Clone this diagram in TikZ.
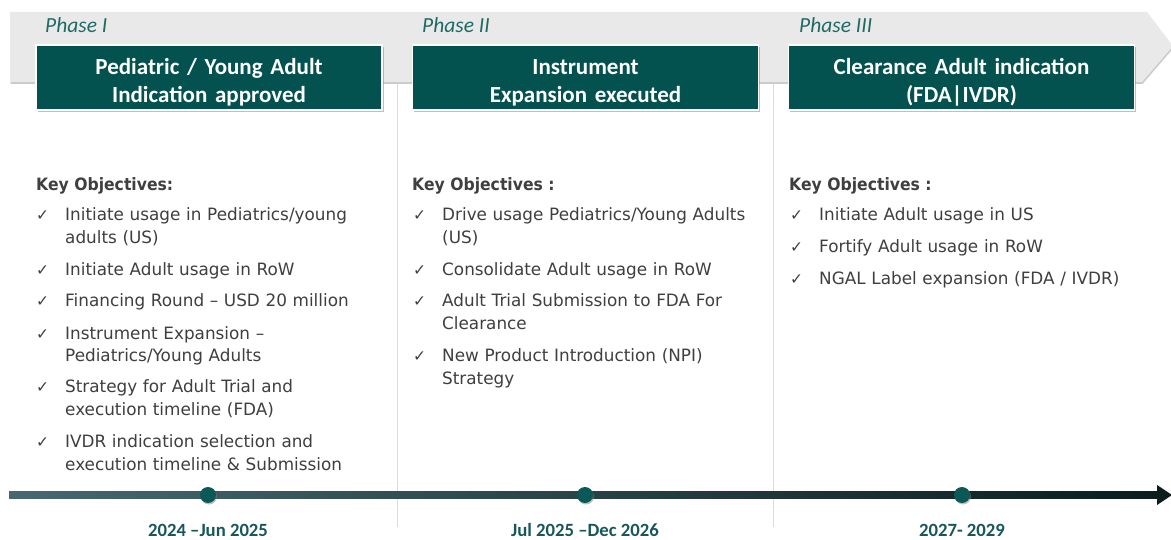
\documentclass[tikz,border=0pt]{standalone}
\usepackage{fontspec}
\setmainfont{DejaVu Sans}
\newfontfamily\bodyf{DejaVu Sans}[FakeStretch=0.99]
\newfontfamily\bodyb{DejaVu Sans}[FakeStretch=0.92]
\newfontfamily\calib{Carlito}
\usetikzlibrary{shadows}
\definecolor{boxteal}{HTML}{03524F}
\definecolor{phaseteal}{HTML}{1E6A66}
\definecolor{dateteal}{HTML}{17575A}
\definecolor{bodytxt}{HTML}{3F3F3F}
\definecolor{bannergrey}{HTML}{E9E9E9}
\definecolor{divgrey}{HTML}{DCDCDC}
\definecolor{dotteal}{HTML}{0B5956}
\definecolor{lineA}{HTML}{476871}
\definecolor{lineB}{HTML}{0B1D1D}
\begin{document}
\begin{tikzpicture}[x=1pt,y=-1pt,
  headbox/.style={fill=boxteal, draw=white, line width=1.6pt, minimum width=346pt, minimum height=65pt, inner sep=0pt, drop shadow={shadow xshift=1.5pt, shadow yshift=-2.5pt, fill=black!45, opacity=.55}},
  headtext/.style={text width=340pt, align=center, inner sep=0pt, text=white, font={\calib\bfseries\fontsize{23}{28}\selectfont}},
  phaselabel/.style={anchor=base west, inner sep=0pt, text=phaseteal, font={\calib\itshape\fontsize{21.5}{24}\selectfont}},
  keyhead/.style={anchor=base west, inner sep=0pt, text=bodytxt, font={\bodyb\bfseries\fontsize{17}{23}\selectfont}},
  item/.style={anchor=base west, inner sep=0pt, text=bodytxt, text width=340pt, align=left, font={\bodyf\fontsize{17}{23}\selectfont}},
  checkmark/.style={anchor=base west, inner sep=0pt, text=bodytxt, font={\fontsize{15.5}{17}\selectfont}},
  divider/.style={draw=divgrey, line width=0.8pt},
  dot/.style={circle, fill=dotteal, minimum size=16pt, inner sep=0pt, drop shadow={shadow xshift=1pt, shadow yshift=-1.5pt, fill=black!50, opacity=.5}},
  datelabel/.style={inner sep=0pt, text=dateteal, font={\calib\bfseries\fontsize{18.7}{21}\selectfont}}
]
\useasboundingbox (0,0) rectangle (1171,540);
\fill[white] (0,0) rectangle (1171,540);
% banner
\fill[bannergrey, drop shadow={shadow xshift=0.5pt, shadow yshift=-2pt, fill=black!40, opacity=.5}]
  (10,12) -- (1147,12) -- (1173,46) -- (1142,82) -- (10,82) -- cycle;
% dividers
\coordinate (v1t) at (397,83); \coordinate (v1b) at (397,527);
\coordinate (v2t) at (773,83); \coordinate (v2b) at (773,527);
\draw[divider] (v1t) -- (v1b);
\draw[divider] (v2t) -- (v2b);
% phase labels
\node[phaselabel] (p1) at (45,33) {Phase I};
\node[phaselabel] (p2) at (422,33) {Phase II};
\node[phaselabel] (p3) at (799,33) {Phase III};
% header boxes
\node[headbox] (h1) at (209,77.5) {};
\node[headbox] (h2) at (585.5,77.5) {};
\node[headbox] (h3) at (961.5,77.5) {};
\node[headtext] (h1t) at ([yshift=-5pt]h1.center) {Pediatric / Young Adult\\Indication approved};
\node[headtext] (h2t) at ([yshift=-5pt]h2.center) {Instrument\\Expansion executed};
\node[headtext] (h3t) at ([yshift=-5pt]h3.center) {Clearance Adult indication\\(FDA|IVDR)};
% column 1
\node[keyhead] (k1) at (36,191) {Key Objectives:};
\node[checkmark] (c11) at (36,221) {✓}; \node[item] (i11) at (65,221) {Initiate usage in Pediatrics/young\\adults (US)};
\node[checkmark] (c12) at (36,276) {✓}; \node[item] (i12) at (65,276) {Initiate Adult usage in RoW};
\node[checkmark] (c13) at (36,307) {✓}; \node[item] (i13) at (65,307) {Financing Round – USD 20 million};
\node[checkmark] (c14) at (36,339) {✓}; \node[item] (i14) at (65,339) {Instrument Expansion –\\Pediatrics/Young Adults};
\node[checkmark] (c15) at (36,392) {✓}; \node[item] (i15) at (65,392) {Strategy for Adult Trial and\\execution timeline (FDA)};
\node[checkmark] (c16) at (36,447) {✓}; \node[item] (i16) at (65,447) {IVDR indication selection and\\execution timeline \& Submission};
% column 2
\node[keyhead] (k2) at (412,191) {Key Objectives :};
\node[checkmark] (c21) at (413,221) {✓}; \node[item] (i21) at (442,221) {Drive usage Pediatrics/Young Adults\\(US)};
\node[checkmark] (c22) at (413,276) {✓}; \node[item] (i22) at (442,276) {Consolidate Adult usage in RoW};
\node[checkmark] (c23) at (413,307) {✓}; \node[item] (i23) at (442,307) {Adult Trial Submission to FDA For\\Clearance};
\node[checkmark] (c24) at (413,361) {✓}; \node[item] (i24) at (442,361) {New Product Introduction (NPI)\\Strategy};
% column 3
\node[keyhead] (k3) at (789,191) {Key Objectives :};
\node[checkmark] (c31) at (790,221) {✓}; \node[item] (i31) at (819,221) {Initiate Adult usage in US};
\node[checkmark] (c32) at (790,253) {✓}; \node[item] (i32) at (819,253) {Fortify Adult usage in RoW};
\node[checkmark] (c33) at (790,285) {✓}; \node[item] (i33) at (819,285) {NGAL Label expansion (FDA / IVDR)};
% timeline
\coordinate (tls) at (9,495);
\coordinate (tle) at (1172,495);
\shade[left color=lineA, right color=lineB] (9,491.5) rectangle (1159,498.5);
\fill[lineB] (1157,485) -- (tle) -- (1157,505) -- cycle;
\node[dot] (d1) at (208,495) {};
\node[dot] (d2) at (585,495) {};
\node[dot] (d3) at (962,495) {};
% dates
\node[datelabel] (t1) at (208,530) {2024 –Jun 2025};
\node[datelabel] (t2) at (585,530) {Jul 2025 –Dec 2026};
\node[datelabel] (t3) at (962,530) {2027- 2029};
\end{tikzpicture}
\end{document}
